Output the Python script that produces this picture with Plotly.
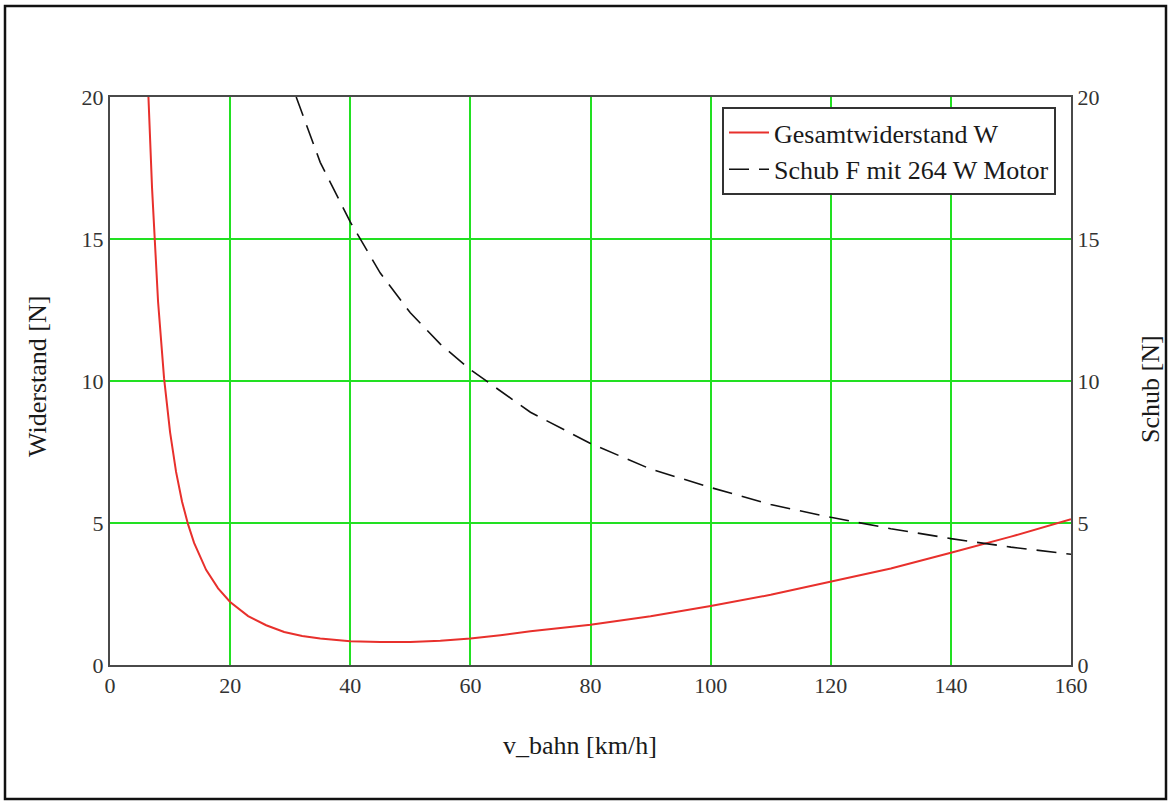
import plotly.graph_objects as go

# Gesamtwiderstand W [N] over track speed v_bahn [km/h]
v_w = [6.4, 7.0, 8.0, 9.0, 10.0, 11.0, 12.0, 13.0, 14.0, 15.0, 16.0, 18.0, 20.0,
       23.0, 26.0, 29.0, 32.0, 35.0, 38.0, 40.0, 45.0, 50.0, 55.0, 60.0, 65.0,
       70.0, 75.0, 80.0, 90.0, 100.0, 110.0, 120.0, 130.0, 140.0, 150.0, 160.0]
w_total = [20.0, 16.8, 12.8, 10.1, 8.2, 6.8, 5.75, 4.95, 4.3, 3.8, 3.35, 2.7, 2.22,
           1.72, 1.4, 1.16, 1.02, 0.93, 0.87, 0.84, 0.81, 0.81, 0.85, 0.93, 1.05,
           1.19, 1.3, 1.42, 1.72, 2.08, 2.47, 2.93, 3.4, 3.95, 4.52, 5.13]

# Schub F [N] of the 264 W motor
v_f = [31.0, 35.0, 40.0, 45.0, 50.0, 55.0, 60.0, 70.0, 80.0, 90.0, 100.0,
       110.0, 120.0, 130.0, 140.0, 150.0, 160.0]
f_thrust = [20.0, 17.7, 15.6, 13.8, 12.4, 11.3, 10.4, 8.9, 7.8, 6.9, 6.25,
            5.65, 5.2, 4.8, 4.45, 4.15, 3.9]

x_ticks = [0, 20, 40, 60, 80, 100, 120, 140, 160]
y_ticks = [0, 5, 10, 15, 20]

SERIF = "Liberation Serif, Times New Roman, serif"
GRID = "#22e022"
AXIS = "#4a4a4a"
TEXT = "#1a1a1a"

# plot area in pixels
L, R, T, B = 110, 1071, 97, 665
W_FIG, H_FIG = 1171, 803
PW, PH = R - L, B - T


def px(xp):
    return (xp - L) / PW


def py(yp):
    return (B - yp) / PH


fig = go.Figure()
fig.add_trace(go.Scatter(x=v_w, y=w_total, mode="lines", name="Gesamtwiderstand W",
                         line=dict(color="#e8302c", width=2), yaxis="y"))
fig.add_trace(go.Scatter(x=v_f, y=f_thrust, mode="lines", name="Schub F mit 264 W Motor",
                         line=dict(color="#111111", width=1.6, dash="20px,10px"),
                         yaxis="y2"))

axis_common = dict(showline=True, linecolor=AXIS, linewidth=2, ticks="",
                   zeroline=False, tickfont=dict(family=SERIF, size=22, color="#333333"))

fig.update_layout(
    width=W_FIG, height=H_FIG,
    margin=dict(l=L, r=W_FIG - R, t=T, b=H_FIG - B, pad=0),
    paper_bgcolor="white", plot_bgcolor="white",
    font=dict(family=SERIF, color=TEXT),
    xaxis=dict(range=[0, 160], tickvals=x_ticks, showgrid=True, gridcolor=GRID,
               gridwidth=2, mirror=True, **axis_common),
    yaxis=dict(range=[0, 20], tickvals=y_ticks, showgrid=True, gridcolor=GRID,
               gridwidth=2, mirror=True, **axis_common),
    yaxis2=dict(range=[0, 20], tickvals=y_ticks, overlaying="y", side="right",
                showgrid=False, **axis_common),
    legend=dict(x=px(1056), y=py(107), xanchor="right", yanchor="top",
                bgcolor="white", bordercolor="#333333", borderwidth=2,
                font=dict(family=SERIF, size=26, color=TEXT),
                tracegroupgap=0, itemwidth=40),
    showlegend=True,
)

# axis titles
fig.add_annotation(text="v_bahn [km/h]", x=px(580), y=py(745), xref="paper", yref="paper",
                   xanchor="center", yanchor="middle", showarrow=False,
                   font=dict(family=SERIF, size=26, color=TEXT))
fig.add_annotation(text="Widerstand [N]", x=px(37), y=py(377), xref="paper", yref="paper",
                   xanchor="center", yanchor="middle", showarrow=False, textangle=-90,
                   font=dict(family=SERIF, size=26, color=TEXT))
fig.add_annotation(text="Schub [N]", x=px(1150), y=py(389), xref="paper", yref="paper",
                   xanchor="center", yanchor="middle", showarrow=False, textangle=-90,
                   font=dict(family=SERIF, size=26, color=TEXT))

# outer frame
fig.add_shape(type="rect", xref="paper", yref="paper",
              x0=px(5), x1=px(1166), y0=py(799), y1=py(6),
              line=dict(color="#111111", width=2.5), fillcolor="rgba(0,0,0,0)")

fig.write_html("out.html")
